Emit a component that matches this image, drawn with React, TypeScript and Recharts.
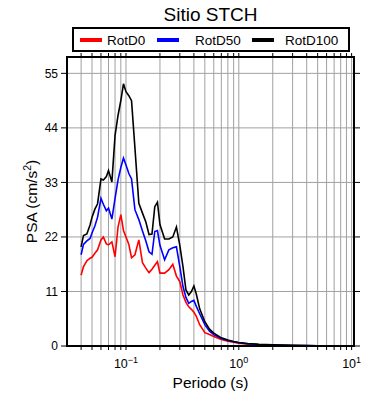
import React from 'react';
import { LineChart, Line, XAxis, YAxis, CartesianGrid } from 'recharts';

const periods = [
  0.04, 0.042, 0.045, 0.048, 0.05, 0.053, 0.056, 0.06, 0.063, 0.067,
  0.07, 0.075, 0.08, 0.085, 0.09, 0.095, 0.1, 0.106, 0.112, 0.12,
  0.13, 0.14, 0.15, 0.16, 0.17, 0.18, 0.19, 0.2, 0.22, 0.24,
  0.26, 0.28, 0.3, 0.32, 0.34, 0.36, 0.38, 0.4, 0.42, 0.45,
  0.5, 0.55, 0.6, 0.7, 0.8, 0.9, 1.0, 1.2, 1.5, 2,
  3, 4, 5, 7.5, 10,
];

const rotD0 = [
  14.3, 16.0, 17.2, 17.7, 17.9, 18.7, 19.4, 21.4, 22.0, 20.6,
  20.4, 21.0, 18.0, 24.0, 26.5, 23.3, 22.0, 20.5, 17.8, 18.4,
  21.4, 16.8, 15.7, 14.8, 15.5, 16.3, 17.0, 14.7, 14.7, 15.4,
  16.5, 14.1, 13.0, 10.3, 8.8, 7.9, 7.4, 6.8, 6.0, 4.3,
  2.7, 2.3, 1.9, 1.3, 0.95, 0.75, 0.55, 0.38, 0.25, 0.16,
  0.09, 0.06, 0.045, 0.03, 0.02,
];

const rotD50 = [
  18.4, 20.5, 21.2, 21.7, 22.8, 24.2, 26.0, 29.8, 28.6, 27.3,
  27.8, 25.6, 29.8, 33.5, 36.0, 37.9, 36.5, 34.8, 33.7, 27.5,
  25.5, 23.2, 21.2, 19.0, 18.5, 23.1, 23.3, 20.3, 17.4, 19.4,
  19.8, 20.0, 16.0, 12.0, 9.8, 8.6, 9.0, 9.2, 8.0, 6.5,
  4.3, 3.0, 2.3, 1.5, 1.1, 0.85, 0.65, 0.45, 0.3, 0.2,
  0.11, 0.07, 0.05, 0.035, 0.025,
];

const rotD100 = [
  20.0, 22.3, 22.6, 24.4, 26.0, 27.6, 28.7, 33.7, 33.5, 34.2,
  35.4, 33.1, 42.5, 46.5, 49.5, 52.9, 51.3, 50.5, 49.5, 40.0,
  28.8, 26.8, 25.0, 22.5, 22.6, 28.1, 29.0, 24.5, 21.6, 21.6,
  22.0, 24.0, 20.3, 16.0, 11.3, 10.3, 11.0, 12.1, 10.5, 7.5,
  4.9, 3.4, 2.6, 1.65, 1.2, 0.9, 0.7, 0.5, 0.34, 0.22,
  0.12, 0.08, 0.06, 0.04, 0.03,
];

const xTicks = [
  0.04, 0.05, 0.06, 0.07, 0.08, 0.09, 0.1,
  0.2, 0.3, 0.4, 0.5, 0.6, 0.7, 0.8, 0.9, 1,
  2, 3, 4, 5, 6, 7, 8, 9, 10,
];
const yTicks = [0, 11, 22, 33, 44, 55];
const seriesNames = ['RotD0', 'RotD50', 'RotD100'];
const seriesColors = ['#ff0000', '#0000ff', '#000000'];
const titleText = 'Sitio STCH';
const xLabel = 'Periodo (s)';

const data = periods.map((p, i) => ({
  T: p,
  RotD0: rotD0[i],
  RotD50: rotD50[i],
  RotD100: rotD100[i],
}));

const FONT = '"Liberation Sans", Arial, Helvetica, sans-serif';

const XTick = (props: any) => {
  const { x, y, payload } = props;
  const v = payload.value;
  const lg = Math.log10(v);
  const e = Math.round(lg);
  if (Math.abs(lg - e) > 1e-6) return <g />;
  const expStr = e < 0 ? '\u2212' + String(-e) : String(e);
  return (
    <text x={x} y={y + 16} textAnchor="middle" fontSize={12.5} fontFamily={FONT} fill="#000">
      10
      <tspan dy={-5.5} fontSize={9}>{expStr}</tspan>
    </text>
  );
};

const YTick = (props: any) => {
  const { x, y, payload } = props;
  return (
    <text x={x} y={y + 4.3} textAnchor="end" fontSize={12} fontFamily={FONT} fill="#000">
      {payload.value}
    </text>
  );
};

const Empty = () => <g />;

const frame = { stroke: '#000', strokeWidth: 2, strokeLinecap: 'square' as const };
const tickStyle = { stroke: '#000', strokeWidth: 1 };

export default function App() {
  return (
    <div style={{ position: 'absolute', left: 0, top: 0, width: 390, height: 400, background: '#fff' }}>
      <LineChart
        width={390}
        height={400}
        data={data}
        margin={{ top: 47, right: 26, bottom: 24, left: 27 }}
      >
        <CartesianGrid stroke="#a0a0a0" strokeWidth={1} />
        <XAxis
          dataKey="T"
          type="number"
          scale="log"
          domain={[0.03, 10.5]}
          allowDataOverflow
          ticks={xTicks}
          interval={0}
          height={30}
          tickSize={4}
          tickMargin={2}
          axisLine={frame}
          tickLine={tickStyle}
          tick={<XTick />}
        />
        <XAxis
          xAxisId="top"
          orientation="top"
          dataKey="T"
          type="number"
          scale="log"
          domain={[0.03, 10.5]}
          allowDataOverflow
          ticks={xTicks}
          interval={0}
          height={10}
          tickSize={4}
          axisLine={frame}
          tickLine={tickStyle}
          tick={<Empty />}
        />
        <YAxis
          type="number"
          domain={[0, 58.3]}
          allowDataOverflow
          ticks={yTicks}
          interval={0}
          width={40}
          tickSize={6}
          tickMargin={3}
          axisLine={frame}
          tickLine={tickStyle}
          tick={<YTick />}
        />
        <YAxis
          yAxisId="right"
          orientation="right"
          type="number"
          domain={[0, 58.3]}
          allowDataOverflow
          ticks={yTicks}
          interval={0}
          width={10}
          tickSize={6}
          axisLine={frame}
          tickLine={tickStyle}
          tick={<Empty />}
        />
        {seriesNames.map((name, i) => (
          <Line
            key={name}
            dataKey={name}
            name={name}
            type="linear"
            stroke={seriesColors[i]}
            strokeWidth={1.6}
            dot={false}
            activeDot={false}
            isAnimationActive={false}
          />
        ))}
      </LineChart>
      <svg
        width={390}
        height={400}
        style={{ position: 'absolute', left: 0, top: 0, pointerEvents: 'none' }}
      >
        <text x={210.5} y={20.5} textAnchor="middle" fontSize={19} fontFamily={FONT} fill="#000">
          {titleText}
        </text>
        <rect x={73} y={28} width={276} height={23} fill="#fff" stroke="#000" strokeWidth={2} />
        {[
          { lx: 80, tx: 107 },
          { lx: 157, tx: 195 },
          { lx: 252, tx: 285 },
        ].map((p, i) => (
          <g key={seriesNames[i]}>
            <line x1={p.lx} x2={p.lx + 22} y1={40} y2={40} stroke={seriesColors[i]} strokeWidth={4} />
            <text x={p.tx} y={44.5} fontSize={13.5} fontFamily={FONT} fill="#000">
              {seriesNames[i]}
            </text>
          </g>
        ))}
        <text x={210.5} y={387.5} textAnchor="middle" fontSize={15.5} fontFamily={FONT} fill="#000">
          {xLabel}
        </text>
        <text
          transform="translate(37,201.5) rotate(-90)"
          x={0}
          y={0}
          textAnchor="middle"
          fontSize={15.5}
          fontFamily={FONT}
          fill="#000"
        >
          PSA (cm/s
          <tspan dy={-6} fontSize={10.5}>2</tspan>
          <tspan dy={6}>)</tspan>
        </text>
      </svg>
    </div>
  );
}
